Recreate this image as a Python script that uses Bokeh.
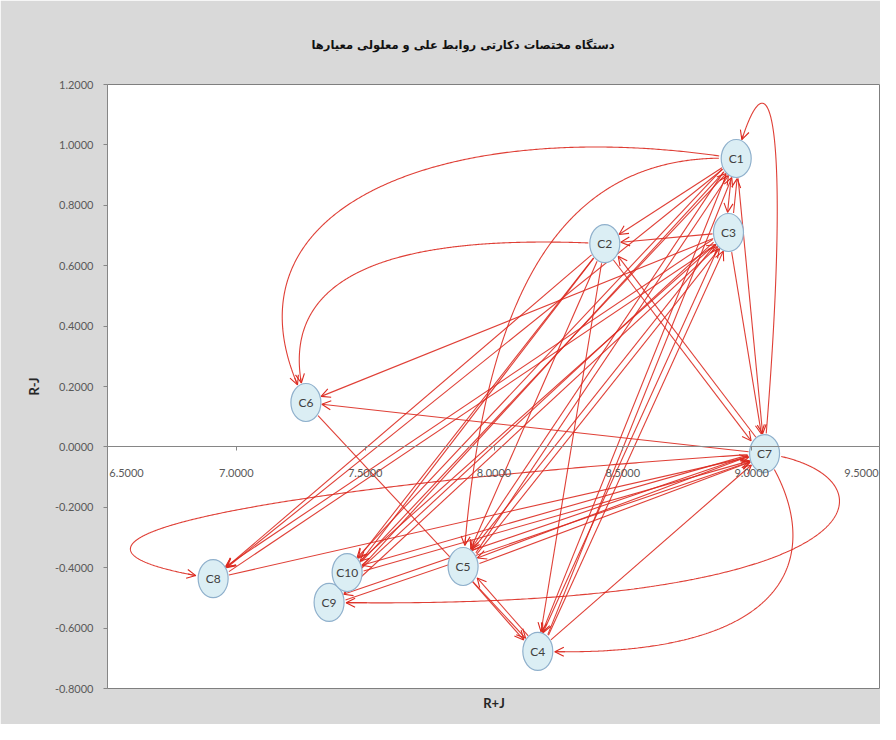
import numpy as np
from bokeh.plotting import figure
from bokeh.models import (ColumnDataSource, Arrow, OpenHead, FixedTicker, LabelSet,
                          NumeralTickFormatter, CustomJSTickFormatter, LinearAxis, Title, Range1d)
from bokeh.core.properties import value
from bokeh.embed import file_html
from bokeh.resources import INLINE

# ---------------- data ----------------
title_text = "دستگاه مختصات دکارتی روابط علی و معلولی معیارها"
x_title = "R+J"
y_title = "R-J"

node_names = ["C1", "C2", "C3", "C4", "C5", "C6", "C7", "C8", "C9", "C10"]
node_x = [8.94, 8.43, 8.91, 8.17, 7.88, 7.27, 9.05, 6.91, 7.36, 7.43]   # R+J
node_y = [0.955, 0.673, 0.710, -0.677, -0.396, 0.147, -0.022, -0.436, -0.515, -0.416]  # R-J

edge_from = ["C1", "C3", "C1", "C3", "C7",
             "C1", "C3", "C2",
             "C1", "C1", "C1", "C1", "C1",
             "C2", "C2", "C2", "C2", "C2",
             "C3", "C3", "C3", "C3", "C3", "C3",
             "C7", "C7", "C7", "C7",
             "C10", "C5", "C4", "C9", "C8",
             "C6", "C5", "C4",
             "C4", "C5", "C10", "C4", "C5", "C9", "C8"]
edge_to = ["C3", "C1", "C2", "C2", "C2",
           "C7", "C7", "C7",
           "C8", "C10", "C9", "C5", "C4",
           "C8", "C10", "C9", "C5", "C4",
           "C8", "C10", "C9", "C5", "C4", "C6",
           "C6", "C10", "C9", "C5",
           "C7", "C7", "C7", "C7", "C7",
           "C4", "C4", "C5",
           "C1", "C1", "C1", "C3", "C3", "C3", "C3"]

curve_from = ["C7", "C1", "C2", "C7", "C7", "C7", "C1"]
curve_to = ["C1", "C6", "C6", "C8", "C9", "C4", "C5"]

x_ticks = [6.5, 7.0, 7.5, 8.0, 8.5, 9.0, 9.5]
y_ticks = [-0.8, -0.6, -0.4, -0.2, 0.0, 0.2, 0.4, 0.6, 0.8, 1.0, 1.2]

# ---------------- routing / style ----------------
# bend handles of the curved links (offsets from source / target node, data units)
curve_h1 = [(0.10, 1.00), (-1.10, 0.15), (-0.71, 0.03), (-1.80, -0.10), (0.53, -0.06), (0.20, -0.25), (-0.76, 0.03)]
curve_h2 = [(0.15, 0.46), (-0.40, 0.66), (-0.16, 0.47), (-0.95, 0.13), (2.22, -0.03), (1.12, -0.03), (0.07, 0.78)]

W, H = 880, 724
BL, BR, BT, BB = 107, 0, 84, 36
FW, FH = W - BL - BR, H - BT - BB
X0, X1 = x_ticks[0], x_ticks[-1]
Y0, Y1 = y_ticks[0], y_ticks[-1]
SX = FW / (X1 - X0)
SY = FH / (Y1 - Y0)
RX, RY = 16.0, 20.0      # node ellipse radii (px) used for trimming
RED = "#dc2a20"
LW = 1.1

idx = {n: i for i, n in enumerate(node_names)}
NX = np.array(node_x)
NY = np.array(node_y)

# straight links
pairs = set(zip(edge_from, edge_to))
sx0, sy0, sx1, sy1 = [], [], [], []
for a, b in zip(edge_from, edge_to):
    ia, ib = idx[a], idx[b]
    ax, ay = NX[ia] * SX, NY[ia] * SY
    bx, by = NX[ib] * SX, NY[ib] * SY
    dx, dy = bx - ax, by - ay
    L = np.hypot(dx, dy)
    ux, uy = dx / L, dy / L
    r = 1.0 / np.sqrt((ux / RX) ** 2 + (uy / RY) ** 2)
    off = 3.0 if (b, a) in pairs else 0.0
    nx, ny = uy, -ux
    sx0.append((ax + ux * r + nx * off) / SX)
    sy0.append((ay + uy * r + ny * off) / SY)
    sx1.append((bx - ux * r + nx * off) / SX)
    sy1.append((by - uy * r + ny * off) / SY)

# curved links
cxs, cys = [], []
hx0, hy0, hx1, hy1 = [], [], [], []
t = np.linspace(0, 1, 400)
for a, b, h1, h2 in zip(curve_from, curve_to, curve_h1, curve_h2):
    ia, ib = idx[a], idx[b]
    p0 = np.array([NX[ia], NY[ia]])
    p3 = np.array([NX[ib], NY[ib]])
    p1 = p0 + np.array(h1)
    p2 = p3 + np.array(h2)
    bx = ((1 - t) ** 3)[:, None] * p0 + (3 * (1 - t) ** 2 * t)[:, None] * p1 + \
         (3 * (1 - t) * t ** 2)[:, None] * p2 + (t ** 3)[:, None] * p3
    px, py = bx[:, 0] * SX, bx[:, 1] * SY
    in_a = ((px - p0[0] * SX) / RX) ** 2 + ((py - p0[1] * SY) / RY) ** 2 < 1
    in_b = ((px - p3[0] * SX) / RX) ** 2 + ((py - p3[1] * SY) / RY) ** 2 < 1
    i0 = int(np.argmax(~in_a))
    i1 = len(t) - 1 - int(np.argmax(~in_b[::-1]))
    seg = bx[i0:i1 + 1]
    cxs.append(list(seg[:, 0]))
    cys.append(list(seg[:, 1]))
    hx0.append(seg[-6, 0]); hy0.append(seg[-6, 1])
    hx1.append(seg[-1, 0]); hy1.append(seg[-1, 1])

# ---------------- figure ----------------
p = figure(width=W, height=H, x_range=Range1d(X0, X1), y_range=Range1d(Y0, Y1),
           output_backend="svg", toolbar_location=None, x_axis_location=None,
           min_border_left=BL, min_border_right=BR, min_border_top=BT, min_border_bottom=BB,
           background_fill_color="white", border_fill_color="#d9d9d9",
           outline_line_color="#7f7f7f", outline_line_width=1)
p.grid.visible = False

p.title = Title(text=title_text, align="left", offset=204, text_font="DejaVu Sans",
                text_font_size="11.5px", text_font_style="bold", text_color="#111111")
# spacer between the title and the plot area
p.add_layout(Title(text=" ", text_font_size="14px"), "above")

# y axis
ya = p.yaxis[0]
ya.ticker = FixedTicker(ticks=y_ticks)
ya.formatter = NumeralTickFormatter(format="0.0000")
ya.major_label_text_font = "Lato"
ya.major_label_text_font_size = "11px"
ya.major_label_text_color = "#595959"
ya.axis_line_color = "#868686"
ya.major_tick_line_color = "#868686"
ya.major_tick_out = 4
ya.major_tick_in = 0
ya.minor_tick_line_color = None
ya.major_label_standoff = 10
ya.axis_label = y_title
ya.axis_label_text_font = "Lato"
ya.axis_label_text_font_style = "bold"
ya.axis_label_text_font_size = "13px"
ya.axis_label_text_color = "#262626"
ya.axis_label_standoff = 10

# x axis crossing at y = 0 (labels drawn as a label set)
xa = LinearAxis(fixed_location=0, ticker=FixedTicker(ticks=x_ticks),
                formatter=CustomJSTickFormatter(code="return ''"))
xa.axis_line_color = "#868686"
xa.major_tick_line_color = "#868686"
xa.major_tick_out = 4
xa.major_tick_in = 0
xa.minor_tick_line_color = None
p.add_layout(xa, "below")

lab_shift = [0.0] * len(x_ticks)
lab_shift[0] = 19.0      # keep end labels inside the plot area
lab_shift[-1] = -19.0
xl_src = ColumnDataSource(dict(x=x_ticks, y=[0.0] * len(x_ticks),
                               t=["%.4f" % v for v in x_ticks], dx=lab_shift))
p.add_layout(LabelSet(x="x", y="y", text="t", source=xl_src, x_offset="dx", y_offset=-26,
                      text_align="center", text_baseline="middle", text_font=value("Lato"),
                      text_font_size="11px", text_color="#595959"))

p.add_layout(Title(text=x_title, align="center", text_font="Lato", text_font_size="13px",
                   text_font_style="bold", text_color="#262626", standoff=8), "below")

# links
p.multi_line(cxs, cys, line_color=RED, line_width=LW, line_alpha=0.9)
p.add_layout(Arrow(end=OpenHead(size=9, line_color=RED, line_width=LW),
                   source=ColumnDataSource(dict(x0=hx0, y0=hy0, x1=hx1, y1=hy1)),
                   x_start="x0", y_start="y0", x_end="x1", y_end="y1",
                   line_color=RED, line_width=LW, line_alpha=0.9, level="underlay"))
p.add_layout(Arrow(end=OpenHead(size=9, line_color=RED, line_width=LW),
                   source=ColumnDataSource(dict(x0=sx0, y0=sy0, x1=sx1, y1=sy1)),
                   x_start="x0", y_start="y0", x_end="x1", y_end="y1",
                   line_color=RED, line_width=LW, line_alpha=0.9, level="underlay"))

# nodes
ns = ColumnDataSource(dict(x=node_x, y=node_y, name=node_names))
p.ellipse(x="x", y="y", width=30, height=38, width_units="screen", height_units="screen",
          source=ns, fill_color="#dbeef4", line_color="#8fb0cc", line_width=1.2)
p.text(x="x", y="y", text="name", source=ns, text_align="center", text_baseline="middle",
       text_font=value("Lato"), text_font_size="12px", text_color="#404040")

open("out.html", "w").write(file_html(p, INLINE))
